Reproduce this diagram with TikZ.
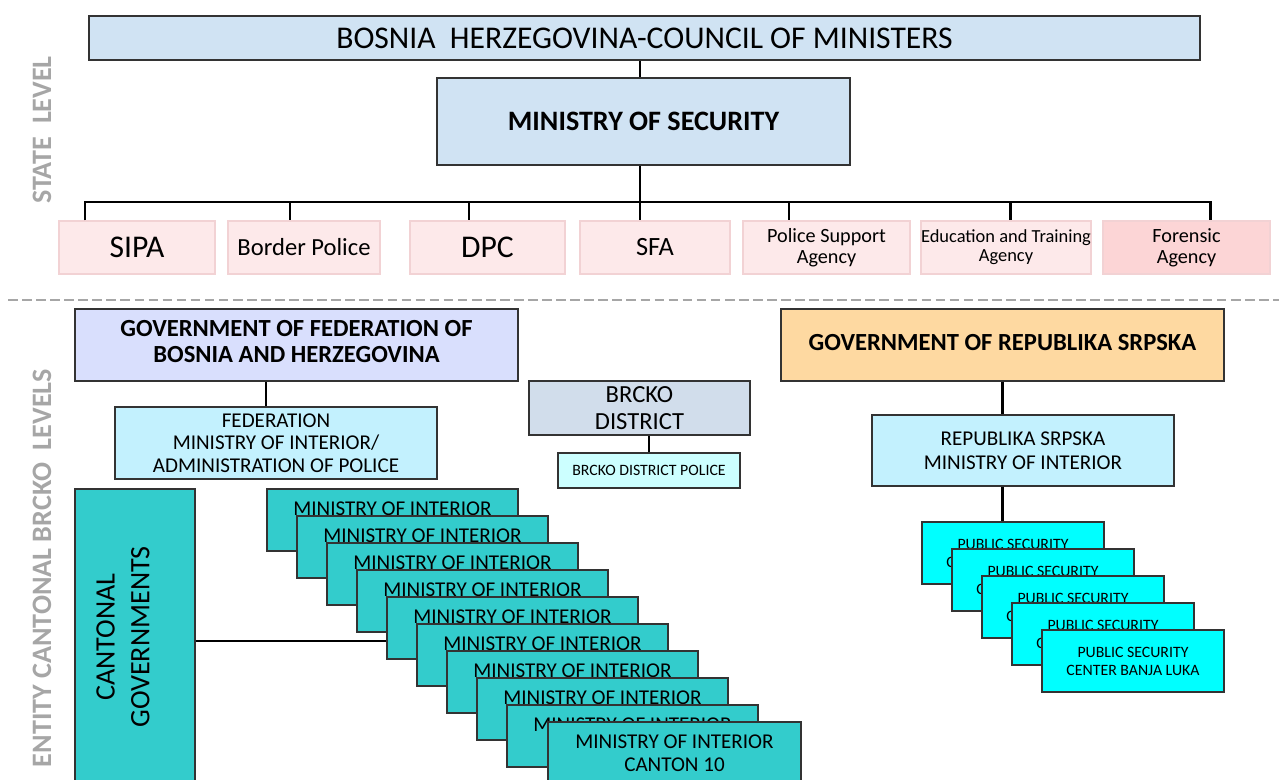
\documentclass[tikz,border=0pt]{standalone}
\usepackage{fontspec}
\setmainfont{Carlito}
\definecolor{statebg}{HTML}{D0E3F3}
\definecolor{agencybg}{HTML}{FDE9EA}
\definecolor{agencyln}{HTML}{F2D2D4}
\definecolor{forensicbg}{HTML}{FCD5D6}
\definecolor{fedbg}{HTML}{D9DFFD}
\definecolor{interiorbg}{HTML}{C3F1FE}
\definecolor{brckobg}{HTML}{D1DDEB}
\definecolor{brckopol}{HTML}{CCFFFF}
\definecolor{cantonbg}{HTML}{33CCCC}
\definecolor{rsbg}{HTML}{FED9A1}
\definecolor{pscbg}{HTML}{00FFFF}
\definecolor{levelgray}{HTML}{A6A6A6}
\tikzset{
    box/.style={draw=black!80, line width=0.8pt, inner sep=0pt, align=center},
    agency/.style={draw=agencyln, fill=agencybg, line width=0.8pt, inner sep=0pt, align=center},
    sz/.style 2 args={minimum width=#1*0.02cm, minimum height=#2*0.02cm},
    link/.style={line width=1.7pt},
    level/.style={rotate=90, text=levelgray, font=\fontsize{16}{19}\selectfont\bfseries},
    moi/.style={box, fill=cantonbg, sz={251}{62}, font=\fontsize{12}{12.8}\selectfont},
    psc/.style={box, fill=pscbg, sz={182}{62}, font=\fontsize{9}{10.2}\selectfont}
}
\begin{document}
\begin{tikzpicture}[x=0.02cm, y=-0.02cm]
    \clip (0,0) rectangle (1279,780);
    \node[level] (statelbl) at (42,130) {STATE\ \ LEVEL};
    \node[level] (entitylbl) at (42,568) {ENTITY CANTONAL BRCKO\ \ LEVELS};
    \node[box, fill=statebg, sz={1111}{44}, font=\fontsize{18}{21}\selectfont] (council) at (644.5,38) {BOSNIA\ \ HERZEGOVINA-COUNCIL OF MINISTERS};
    \node[box, fill=statebg, sz={413}{87}, font=\fontsize{16}{19}\selectfont\bfseries] (mos) at (643.5,121.5) {MINISTRY OF SECURITY};
    \node[agency, sz={156}{53}, font=\fontsize{18}{21}\selectfont] (sipa) at (137,247.5) {SIPA};
    \node[agency, sz={152}{53}, font=\fontsize{14}{16}\selectfont] (bpol) at (304,247.5) {Border Police};
    \node[agency, sz={155}{53}, font=\fontsize{18}{21}\selectfont] (dpc) at (487.5,247.5) {DPC};
    \node[agency, sz={150}{53}, font=\fontsize{15}{18}\selectfont] (sfa) at (655,247.5) {SFA};
    \node[agency, sz={167}{53}, font=\fontsize{11.5}{12}\selectfont] (psa) at (826.5,247.5) {Police Support\\Agency};
    \node[agency, sz={168}{53}, font=\fontsize{10.5}{11}\selectfont] (eta) at (1006,247.5) {Education and Training\\Agency};
    \node[agency, fill=forensicbg, sz={167}{53}, font=\fontsize{11.5}{12}\selectfont] (fa) at (1186.5,247.5) {Forensic\\Agency};
    \coordinate (tsipa) at (85,202);
    \coordinate (tbpol) at (290,202);
    \coordinate (tdpc) at (469,202);
    \coordinate (tsfa) at (640,202);
    \coordinate (tpsa) at (789,202);
    \coordinate (teta) at (1010,202);
    \coordinate (tfa) at (1210,202);
    \draw[line width=1.2pt] (council.south -| tsfa) -- (mos.north -| tsfa);
    \draw[link] (mos.south -| tsfa) -- (tsfa |- sfa.north);
    \draw[link] (sipa.north -| tsipa) -- (tsipa) -- (tfa) -- (tfa |- fa.north);
    \draw[link] (tbpol) -- (tbpol |- bpol.north);
    \draw[link] (tdpc) -- (tdpc |- dpc.north);
    \draw[link] (tpsa) -- (tpsa |- psa.north);
    \draw[link] (teta) -- (teta |- eta.north);
    \draw[levelgray, line width=1.4pt, dash pattern=on 5.5pt off 2.5pt] (8,300) -- (1279,300);
    \node[box, fill=fedbg, sz={443}{72}, font=\fontsize{14}{14.7}\selectfont\bfseries] (gf) at (296.5,345) {GOVERNMENT OF FEDERATION OF\\BOSNIA AND HERZEGOVINA\\[-11pt]\mbox{}};
    \node[box, fill=interiorbg, sz={322}{72}, font=\fontsize{12}{12.8}\selectfont] (fm) at (276,443) {FEDERATION\\MINISTRY OF INTERIOR/\\ADMINISTRATION OF POLICE};
    \draw[link] ([xshift=-0.2cm]fm.north) -- ([xshift=-0.2cm]fm.north |- gf.south);
    \node[box, fill=brckobg, sz={221}{54}, font=\fontsize{14}{15.3}\selectfont] (bd) at (639.5,408) {BRCKO\\DISTRICT};
    \node[box, fill=brckopol, sz={182}{35}, font=\fontsize{9}{10}\selectfont] (bp) at (649,470.5) {BRCKO DISTRICT POLICE};
    \draw[link] (bp.north) -- (bp.north |- bd.south);
    \node[box, fill=cantonbg, sz={120}{302}] (cg) at (135,640) {};
    \node[rotate=90, align=center, font=\fontsize{16}{19.8}\selectfont] (cgtxt) at (123,637) {CANTONAL\\GOVERNMENTS};
    \node[moi] (mi1) at (392.5,520) {MINISTRY OF INTERIOR\\\phantom{CANTON 1}};
    \node[moi] (mi2) at (422.5,547) {MINISTRY OF INTERIOR\\\phantom{CANTON 2}};
    \node[moi] (mi3) at (452.5,574) {MINISTRY OF INTERIOR\\\phantom{CANTON 3}};
    \node[moi] (mi4) at (482.5,601) {MINISTRY OF INTERIOR\\\phantom{CANTON 4}};
    \node[moi] (mi5) at (512.5,628) {MINISTRY OF INTERIOR\\\phantom{CANTON 5}};
    \node[moi] (mi6) at (542.5,655) {MINISTRY OF INTERIOR\\\phantom{CANTON 6}};
    \node[moi] (mi7) at (572.5,682) {MINISTRY OF INTERIOR\\\phantom{CANTON 7}};
    \node[moi] (mi8) at (602.5,709) {MINISTRY OF INTERIOR\\\phantom{CANTON 8}};
    \node[moi] (mi9) at (632.5,736) {MINISTRY OF INTERIOR\\\phantom{CANTON 9}};
    \node[moi, sz={253}{62}] (mi10) at (674.5,753) {MINISTRY OF INTERIOR\\CANTON 10};
    \coordinate (cgjoin) at (mi5.west |- 0,641);
    \draw[link] (cgjoin -| cg.east) -- (cgjoin);
    \node[box, fill=rsbg, sz={443}{72}, text depth=3.4pt, font=\fontsize{14}{14.7}\selectfont\bfseries] (gr) at (1002.5,345) {GOVERNMENT OF REPUBLIKA SRPSKA};
    \node[box, fill=interiorbg, sz={302}{71}, font=\fontsize{12}{13.6}\selectfont] (rm) at (1023,450.5) {REPUBLIKA SRPSKA\\MINISTRY OF INTERIOR};
    \node[psc] (ps1) at (1013,553) {PUBLIC SECURITY\\C\phantom{ENTER BANJA LUKA}};
    \node[psc] (ps2) at (1043,580) {PUBLIC SECURITY\\C\phantom{ENTER BANJA LUKA}};
    \node[psc] (ps3) at (1073,607) {PUBLIC SECURITY\\C\phantom{ENTER BANJA LUKA}};
    \node[psc] (ps4) at (1103,634) {PUBLIC SECURITY\\C\phantom{ENTER BANJA LUKA}};
    \node[psc] (ps5) at (1133,661) {PUBLIC SECURITY\\CENTER BANJA LUKA};
    \draw[line width=2.2pt] (gr.south) -- (gr.south |- rm.north);
    \draw[line width=2.2pt] (rm.south -| gr.south) -- (ps1.north -| gr.south);
\end{tikzpicture}
\end{document}
